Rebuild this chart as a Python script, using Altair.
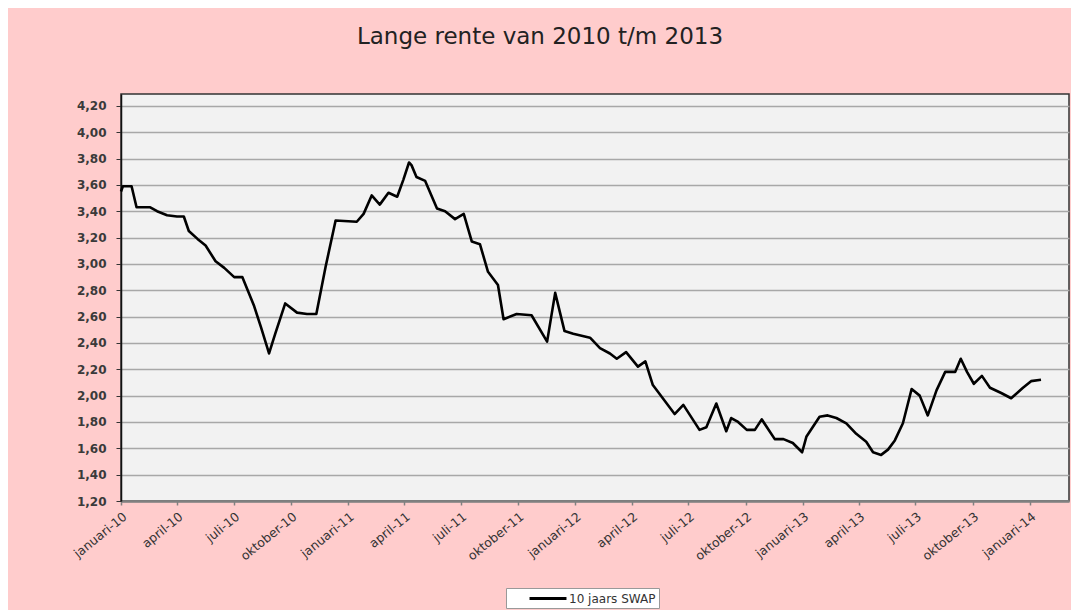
import altair as alt
import pandas as pd

# ---- data ----
dates = [
    "2010-01-01", "2010-01-04", "2010-01-18", "2010-01-26", "2010-02-17", "2010-02-28",
    "2010-03-16", "2010-04-01", "2010-04-12", "2010-04-20", "2010-05-04", "2010-05-17",
    "2010-06-02", "2010-06-16", "2010-07-02", "2010-07-15", "2010-08-03", "2010-08-14",
    "2010-08-27", "2010-09-06", "2010-09-22", "2010-10-11", "2010-10-27", "2010-11-11",
    "2010-11-26", "2010-12-12", "2011-01-15", "2011-01-26", "2011-02-08", "2011-02-21",
    "2011-03-07", "2011-03-21", "2011-03-31", "2011-04-09", "2011-04-13", "2011-04-21",
    "2011-05-05", "2011-05-24", "2011-06-06", "2011-06-22", "2011-07-06", "2011-07-19",
    "2011-08-01", "2011-08-14", "2011-08-30", "2011-09-08", "2011-09-29", "2011-10-23",
    "2011-11-17", "2011-11-30", "2011-12-15", "2011-12-29", "2012-01-25", "2012-02-10",
    "2012-02-26", "2012-03-08", "2012-03-23", "2012-04-11", "2012-04-23", "2012-05-05",
    "2012-05-21", "2012-06-09", "2012-06-23", "2012-07-19", "2012-07-30", "2012-08-15",
    "2012-08-31", "2012-09-08", "2012-09-19", "2012-10-03", "2012-10-16", "2012-10-27",
    "2012-11-17", "2012-12-01", "2012-12-16", "2012-12-31", "2013-01-07", "2013-01-28",
    "2013-02-10", "2013-02-24", "2013-03-12", "2013-03-28", "2013-04-13", "2013-04-24",
    "2013-05-07", "2013-05-18", "2013-05-29", "2013-06-11", "2013-06-25", "2013-07-08",
    "2013-07-21", "2013-08-04", "2013-08-18", "2013-09-03", "2013-09-12", "2013-09-22",
    "2013-10-03", "2013-10-16", "2013-10-29", "2013-11-16", "2013-12-02", "2013-12-21",
    "2014-01-03", "2014-01-19",
]
swap_10y = [
    3.55, 3.59, 3.59, 3.43, 3.43, 3.40,
    3.37, 3.36, 3.36, 3.25, 3.19, 3.14,
    3.02, 2.97, 2.90, 2.90, 2.68, 2.52,
    2.32, 2.47, 2.70, 2.63, 2.62, 2.62,
    2.98, 3.33, 3.32, 3.38, 3.52, 3.45,
    3.54, 3.51, 3.64, 3.77, 3.75, 3.66,
    3.63, 3.42, 3.40, 3.34, 3.38, 3.17,
    3.15, 2.94, 2.84, 2.58, 2.62, 2.61,
    2.41, 2.78, 2.49, 2.47, 2.44, 2.36,
    2.32, 2.28, 2.33, 2.22, 2.26, 2.08,
    1.98, 1.86, 1.93, 1.74, 1.76, 1.94,
    1.73, 1.83, 1.80, 1.74, 1.74, 1.82,
    1.67, 1.67, 1.64, 1.57, 1.69, 1.84,
    1.85, 1.83, 1.79, 1.71, 1.65, 1.57,
    1.55, 1.59, 1.66, 1.79, 2.05, 2.00,
    1.85, 2.04, 2.18, 2.18, 2.28, 2.18,
    2.09, 2.15, 2.06, 2.02, 1.98, 2.06,
    2.11, 2.12,
]
series_name = "10 jaars SWAP"

# quarterly axis ticks (year, month)
x_tick_months = [
    (2010, 1), (2010, 4), (2010, 7), (2010, 10),
    (2011, 1), (2011, 4), (2011, 7), (2011, 10),
    (2012, 1), (2012, 4), (2012, 7), (2012, 10),
    (2013, 1), (2013, 4), (2013, 7), (2013, 10),
    (2014, 1),
]
y_ticks = [1.2, 1.4, 1.6, 1.8, 2.0, 2.2, 2.4, 2.6, 2.8, 3.0, 3.2, 3.4, 3.6, 3.8, 4.0, 4.2]

df = pd.DataFrame({"datum": dates, "rente": swap_10y, "reeks": [series_name] * len(dates)})

month_expr = ("['januari','februari','maart','april','mei','juni','juli','augustus',"
              "'september','oktober','november','december'][utcmonth(datum.value)]"
              " + '-' + utcFormat(datum.value, '%y')")

x_axis = alt.Axis(
    values=[alt.DateTime(year=y, month=m, date=1, utc=True) for y, m in x_tick_months],
    labelExpr=month_expr,
    labelAngle=-39,
    labelFont="DejaVu Sans",
    labelFontSize=12.5,
    labelColor="#333333",
    labelPadding=5,
    labelOverlap=False,
    labelBound=False,
    tickColor="#808080",
    tickSize=4,
    tickWidth=1.5,
    domainColor="#808080",
    domainWidth=2.5,
    grid=False,
    title=None,
)

y_axis = alt.Axis(
    values=y_ticks,
    labelExpr="replace(format(datum.value, '.2f'), '.', ',')",
    labelFont="DejaVu Sans",
    labelFontWeight="bold",
    labelFontSize=12,
    labelColor="#3a3a3a",
    labelPadding=10,
    labelOverlap=False,
    tickColor="#333333",
    tickSize=5,
    domainColor="#111111",
    domainWidth=1.5,
    grid=True,
    gridColor="#a8a8a8",
    gridWidth=1.7,
    title=None,
)

chart = (
    alt.Chart(df)
    .mark_line(strokeWidth=2.6, strokeJoin="round")
    .encode(
        x=alt.X(
            "datum:T",
            scale=alt.Scale(
                type="utc",
                domain=[alt.DateTime(year=2010, month=1, date=1, utc=True),
                        alt.DateTime(year=2014, month=3, date=5, utc=True)],
                nice=False,
            ),
            axis=x_axis,
        ),
        y=alt.Y(
            "rente:Q",
            scale=alt.Scale(domain=[1.2, 4.29], nice=False, zero=False),
            axis=y_axis,
        ),
        color=alt.Color(
            "reeks:N",
            scale=alt.Scale(range=["#000000"]),
            legend=alt.Legend(
                title=None,
                orient="none",
                legendX=385,
                legendY=494,
                direction="horizontal",
                symbolType="M2.17,0H8.33",
                symbolSize=144,
                symbolStrokeWidth=3,
                labelFont="DejaVu Sans",
                labelFontSize=12,
                labelColor="#333333",
                labelOffset=45,
                labelExpr="datum.label + '\u00a0\u00a0\u00a0\u00a0\u00a0\u00a0\u00a0\u00a0'",
                fillColor="#ffffff",
                strokeColor="#999999",
                padding=3,
            ),
        ),
    )
    .properties(
        width=948,
        height=407,
        title=alt.TitleParams(
            text="Lange rente van 2010 t/m 2013",
            font="DejaVu Sans",
            fontSize=23,
            fontWeight="normal",
            color="#222222",
            anchor="middle",
            frame="group",
            dx=-55,
            baseline="alphabetic",
            offset=27,
        ),
        autosize=alt.AutoSizeParams(type="none"),
        padding={"left": 113, "top": 86, "right": 2, "bottom": 109},
        background="#ffcccc",
    )
    .configure_view(fill="#f2f2f2", stroke="#333333", strokeWidth=1.5)
)

chart.save("out.html", embed_options={"renderer": "svg", "actions": False})
